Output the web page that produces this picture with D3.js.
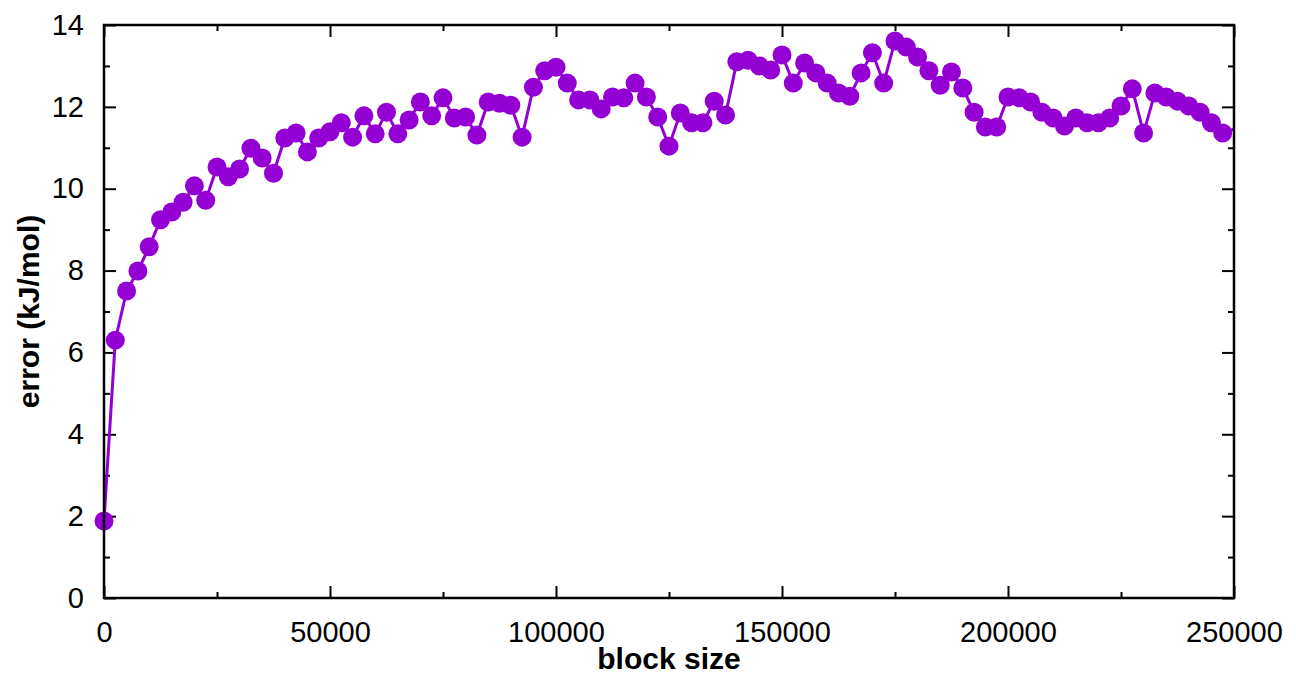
<!DOCTYPE html>
<html lang="en">
<head>
  <meta charset="UTF-8">
  <title>Block size error</title>
  <script src="https://d3js.org/d3.v7.min.js"></script>
  <style>
    body {
      margin: 0;
      padding: 0;
      background: #fff;
    }
    svg text {
      font-family: "Liberation Sans", Arial, Helvetica, sans-serif;
    }
    .tick text {
      font-size: 29px;
      fill: #000;
    }
    .axis-title {
      font-size: 30px;
      font-weight: bold;
    }
  </style>
</head>
<body>
  <div id="chart"></div>

  <script>
    // block sizes (x) and error in kJ/mol (y)
    const blockSizes = [
      0, 2500, 5000, 7500, 10000, 12500, 15000, 17500, 20000, 22500,
      25000, 27500, 30000, 32500, 35000, 37500, 40000, 42500, 45000, 47500,
      50000, 52500, 55000, 57500, 60000, 62500, 65000, 67500, 70000, 72500,
      75000, 77500, 80000, 82500, 85000, 87500, 90000, 92500, 95000, 97500,
      100000, 102500, 105000, 107500, 110000, 112500, 115000, 117500, 120000, 122500,
      125000, 127500, 130000, 132500, 135000, 137500, 140000, 142500, 145000, 147500,
      150000, 152500, 155000, 157500, 160000, 162500, 165000, 167500, 170000, 172500,
      175000, 177500, 180000, 182500, 185000, 187500, 190000, 192500, 195000, 197500,
      200000, 202500, 205000, 207500, 210000, 212500, 215000, 217500, 220000, 222500,
      225000, 227500, 230000, 232500, 235000, 237500, 240000, 242500, 245000, 247500,
      252500
    ];
    const errors = [
      1.88, 6.30, 7.50, 7.99, 8.58, 9.24, 9.43, 9.67, 10.07, 9.72,
      10.53, 10.29, 10.48, 10.99, 10.75, 10.38, 11.24, 11.36, 10.90, 11.24,
      11.39, 11.61, 11.26, 11.78, 11.34, 11.87, 11.34, 11.68, 12.12, 11.78,
      12.22, 11.73, 11.75, 11.31, 12.12, 12.09, 12.04, 11.26, 12.48, 12.88,
      12.97, 12.58, 12.17, 12.17, 11.95, 12.24, 12.22, 12.58, 12.24, 11.75,
      11.04, 11.85, 11.61, 11.61, 12.14, 11.80, 13.10, 13.14, 13.00, 12.90,
      13.27, 12.58, 13.07, 12.83, 12.58, 12.34, 12.26, 12.83, 13.32, 12.58,
      13.61, 13.46, 13.22, 12.88, 12.53, 12.85, 12.46, 11.87, 11.51, 11.51,
      12.24, 12.22, 12.12, 11.87, 11.73, 11.53, 11.73, 11.61, 11.61, 11.73,
      12.02, 12.44, 11.36, 12.34, 12.24, 12.14, 12.02, 11.87, 11.61, 11.36,
      11.55
    ];

    const xMajorTicks = [0, 50000, 100000, 150000, 200000, 250000];
    const xMinorTicks = [25000, 75000, 125000, 175000, 225000];
    const yMajorTicks = [0, 2, 4, 6, 8, 10, 12, 14];
    const yMinorTicks = [1, 3, 5, 7, 9, 11, 13];

    const xTitle = "block size";
    const yTitle = "error (kJ/mol)";

    const data = blockSizes.map((b, i) => ({ x: b, y: errors[i] }));

    const W = 1296, H = 674;
    const margin = { top: 25, right: 62, bottom: 76, left: 104 };
    const width = W - margin.left - margin.right;
    const height = H - margin.top - margin.bottom;
    const purple = "#9400d3";

    const svg = d3.select("#chart")
      .append("svg")
      .attr("width", W)
      .attr("height", H);

    const g = svg.append("g")
      .attr("transform", `translate(${margin.left},${margin.top})`);

    const x = d3.scaleLinear().domain([0, 250000]).range([0, width]);
    const y = d3.scaleLinear().domain([0, 14]).range([height, 0]);

    // ticks, pointing inward on all four sides
    function drawAxis(axis, transform, labels) {
      const a = g.append("g").attr("transform", transform).call(axis);
      a.select(".domain").remove();
      a.selectAll(".tick line").attr("stroke", "#000").attr("stroke-width", 2);
      if (!labels) a.selectAll(".tick text").remove();
      return a;
    }

    drawAxis(d3.axisBottom(x).tickValues(xMajorTicks).tickSize(-12).tickPadding(23).tickFormat(d3.format("d")),
      `translate(0,${height})`, true);
    drawAxis(d3.axisBottom(x).tickValues(xMinorTicks).tickSize(-6), `translate(0,${height})`, false);
    drawAxis(d3.axisTop(x).tickValues(xMajorTicks).tickSize(-12), "translate(0,0)", false);
    drawAxis(d3.axisTop(x).tickValues(xMinorTicks).tickSize(-6), "translate(0,0)", false);

    drawAxis(d3.axisLeft(y).tickValues(yMajorTicks).tickSize(-12).tickPadding(20).tickFormat(d3.format("d")),
      "translate(0,0)", true);
    drawAxis(d3.axisLeft(y).tickValues(yMinorTicks).tickSize(-6), "translate(0,0)", false);
    drawAxis(d3.axisRight(y).tickValues(yMajorTicks).tickSize(-12), `translate(${width},0)`, false);
    drawAxis(d3.axisRight(y).tickValues(yMinorTicks).tickSize(-6), `translate(${width},0)`, false);

    // clip on the right only (first point sits on the left axis and is shown whole)
    svg.append("defs").append("clipPath")
      .attr("id", "plot-clip")
      .append("rect")
      .attr("x", -15)
      .attr("y", -15)
      .attr("width", width + 15)
      .attr("height", height + 30);

    const series = g.append("g").attr("clip-path", "url(#plot-clip)");

    const line = d3.line()
      .x(d => x(d.x))
      .y(d => y(d.y));

    series.append("path")
      .datum(data)
      .attr("fill", "none")
      .attr("stroke", purple)
      .attr("stroke-width", 3)
      .attr("d", line);

    series.selectAll("circle")
      .data(data)
      .enter()
      .append("circle")
      .attr("cx", d => x(d.x))
      .attr("cy", d => y(d.y))
      .attr("r", 9.5)
      .attr("fill", purple);

    // frame
    g.append("rect")
      .attr("width", width)
      .attr("height", height)
      .attr("fill", "none")
      .attr("stroke", "#000")
      .attr("stroke-width", 2.5);

    // axis titles
    svg.append("text")
      .attr("class", "axis-title")
      .attr("x", margin.left + width / 2)
      .attr("y", 669)
      .attr("text-anchor", "middle")
      .text(xTitle);

    svg.append("text")
      .attr("class", "axis-title")
      .attr("transform", `translate(39,${margin.top + height / 2}) rotate(-90)`)
      .attr("text-anchor", "middle")
      .text(yTitle);
  </script>
</body>
</html>
